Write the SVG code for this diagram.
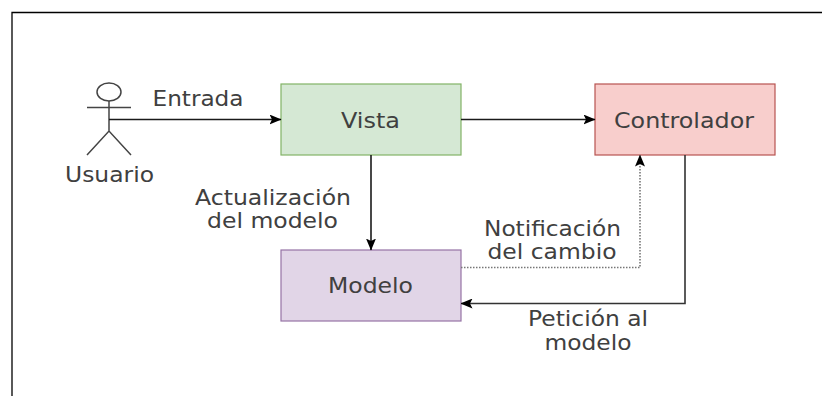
<svg xmlns="http://www.w3.org/2000/svg" width="822" height="396" viewBox="0 0 822 396">
<style>
text{font-family:"DejaVu Sans",sans-serif;font-size:20.500px;fill:#404040;text-anchor:middle}
.c{fill:none;stroke:#1a1a1a;stroke-width:1.600}
.d{stroke:#777;stroke-dasharray:1.5 1.5}
.s{fill:none;stroke:#444;stroke-width:1.500}
</style>
<defs>
<marker id="a" viewBox="0 0 12 10" markerWidth="12" markerHeight="10" refX="11.5" refY="5" orient="auto" markerUnits="userSpaceOnUse"><path d="M0 0L12 5L0 10L2.5 5Z" fill="#000"/></marker>
</defs>
<rect width="822" height="396" fill="#fff"/>
<path d="M12 396V12.500H822" fill="none" stroke="#000" stroke-width="1.300"/>
<g id="usuario">
<ellipse cx="109" cy="92" rx="12" ry="9" class="s"/>
<path d="M109 101V131M87 107.500H131M87 155L109 131L131 155" class="s"/>
<text x="109.500" y="182" textLength="89" lengthAdjust="spacingAndGlyphs">Usuario</text>
</g>
<g id="vista"><rect x="281" y="84" width="180" height="71" fill="#d5e8d4" stroke="#82b366" stroke-width="1.200"/><text x="370.500" y="127.500" textLength="59" lengthAdjust="spacingAndGlyphs">Vista</text></g>
<g id="controlador"><rect x="595" y="84" width="180" height="71" fill="#f8cecc" stroke="#b85450" stroke-width="1.200"/><text x="684" y="127.500" textLength="140" lengthAdjust="spacingAndGlyphs">Controlador</text></g>
<g id="modelo"><rect x="281" y="250" width="180" height="71" fill="#e1d5e7" stroke="#9673a6" stroke-width="1.200"/><text x="370.500" y="293" textLength="85" lengthAdjust="spacingAndGlyphs">Modelo</text></g>
<g id="connectors">
<path class="c" d="M109 119.500H281" marker-end="url(#a)"/>
<path class="c" d="M461 119.500H595" marker-end="url(#a)"/>
<path class="c" d="M371 155V250" marker-end="url(#a)"/>
<path class="c d" d="M461 267.500H640V155" marker-end="url(#a)"/>
<path class="c" style="stroke:#333" d="M685 155V303.500H461" marker-end="url(#a)"/>
</g>
<g id="labels">
<text x="198" y="106" textLength="91" lengthAdjust="spacingAndGlyphs">Entrada</text>
<text x="273" y="205" textLength="156" lengthAdjust="spacingAndGlyphs">Actualización</text>
<text x="272.500" y="228" textLength="131" lengthAdjust="spacingAndGlyphs">del modelo</text>
<text x="552.500" y="236" textLength="137" lengthAdjust="spacingAndGlyphs">Notificación</text>
<text x="552" y="259" textLength="129" lengthAdjust="spacingAndGlyphs">del cambio</text>
<text x="588" y="326" textLength="120" lengthAdjust="spacingAndGlyphs">Petición al</text>
<text x="588" y="349.500" textLength="87" lengthAdjust="spacingAndGlyphs">modelo</text>
</g>
</svg>
